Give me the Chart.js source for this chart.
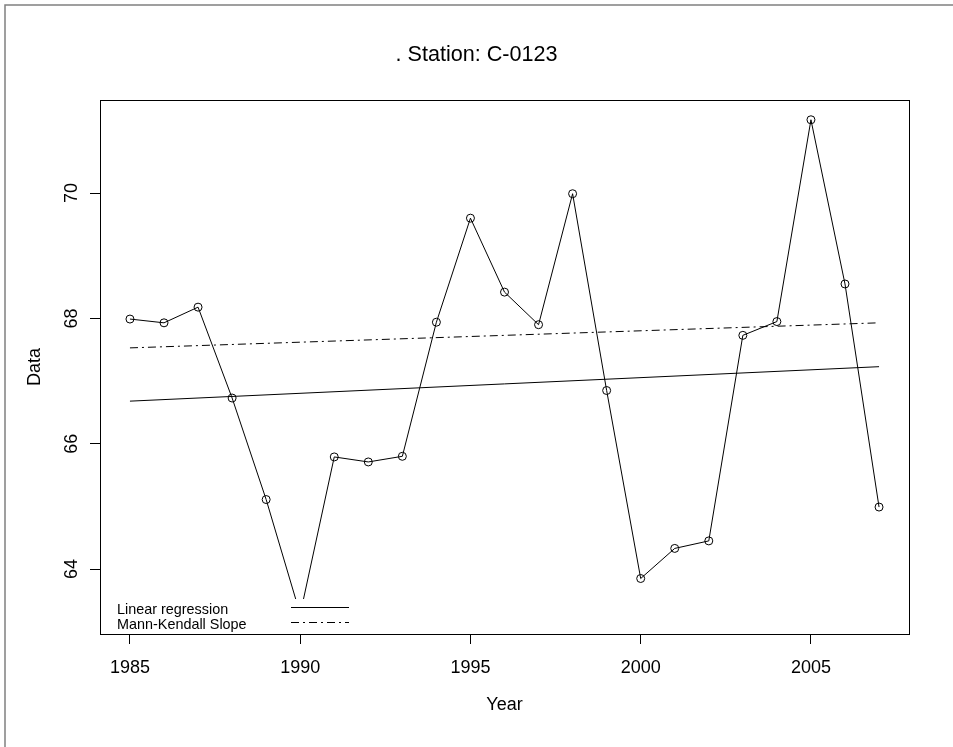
<!DOCTYPE html>
<html>
<head>
<meta charset="utf-8">
<script src="https://cdn.jsdelivr.net/npm/chart.js@4"></script>
<style>
  html, body { margin: 0; padding: 0; background: #fff; }
  canvas { display: block; }
</style>
</head>
<body>
<canvas id="myChart" width="953" height="747"></canvas>
<script>
// data
const years = [1985, 1986, 1987, 1988, 1989, 1990, 1991, 1992, 1993, 1994, 1995, 1996,
               1997, 1998, 1999, 2000, 2001, 2002, 2003, 2004, 2005, 2006, 2007];
const values = [67.99, 67.93, 68.18, 66.73, 65.11, 63.28, 65.79, 65.71, 65.80, 67.94, 69.60, 68.42,
                67.90, 69.99, 66.85, 63.85, 64.33, 64.45, 67.73, 67.95, 71.17, 68.55, 64.99];
const fitYears = [1985, 2007];
const linearFit = [66.68, 67.23];
const mkFit = [67.53, 67.93];
const xTicks = [1985, 1990, 1995, 2000, 2005];
const yTicks = [64, 66, 68, 70];

const FONT = "'Liberation Sans', Arial, Helvetica, sans-serif";

// R style axis range: data range + 4% each side
const xSpan = Math.max(...years) - Math.min(...years);
const ySpan = Math.max(...values) - Math.min(...values);
const xMin = Math.min(...years) - 0.04 * xSpan, xMax = Math.max(...years) + 0.04 * xSpan;
const yMin = Math.min(...values) - 0.04 * ySpan, yMax = Math.max(...values) + 0.04 * ySpan;

const pts = (xs, ys) => xs.map((x, i) => ({x: x, y: ys[i]}));

const boxPlugin = {
    id: 'box',
    beforeDraw(chart) {
        const ctx = chart.ctx;
        ctx.save();
        ctx.strokeStyle = '#808080';
        ctx.lineWidth = 1.5;
        ctx.beginPath();
        ctx.moveTo(5, 747);
        ctx.lineTo(5, 5);
        ctx.lineTo(953, 5);
        ctx.stroke();
        ctx.restore();
    },
    afterDatasetsDraw(chart) {
        // legend in the bottom left corner, white background
        const a = chart.chartArea, ctx = chart.ctx;
        ctx.save();
        ctx.fillStyle = '#fff';
        ctx.fillRect(a.left + 1, a.bottom - 35, 255, 34);
        ctx.fillStyle = '#000';
        ctx.font = '14.4px ' + FONT;
        ctx.textBaseline = 'middle';
        ctx.fillText('Linear regression', a.left + 17, a.bottom - 24);
        ctx.fillText('Mann-Kendall Slope', a.left + 17, a.bottom - 9);
        ctx.strokeStyle = '#000';
        ctx.lineWidth = 1;
        ctx.beginPath();
        ctx.moveTo(a.left + 191, a.bottom - 26.5);
        ctx.lineTo(a.left + 249, a.bottom - 26.5);
        ctx.stroke();
        ctx.setLineDash([8, 4, 2, 4]);
        ctx.beginPath();
        ctx.moveTo(a.left + 191, a.bottom - 11.5);
        ctx.lineTo(a.left + 249, a.bottom - 11.5);
        ctx.stroke();
        ctx.restore();
    },
    afterDraw(chart) {
        const a = chart.chartArea, ctx = chart.ctx;
        ctx.save();
        ctx.strokeStyle = '#000';
        ctx.lineWidth = 1;
        ctx.strokeRect(Math.round(a.left) + 0.5, Math.round(a.top) + 0.5,
                       Math.round(a.right - a.left), Math.round(a.bottom - a.top));
        ctx.restore();
    }
};

new Chart(document.getElementById('myChart'), {
    type: 'line',
    data: {
        datasets: [{
            label: 'Data',
            data: pts(years, values),
            borderColor: '#000',
            borderWidth: 1,
            pointRadius: 4,
            pointBorderColor: '#000',
            pointBackgroundColor: 'rgba(0,0,0,0)',
            pointBorderWidth: 1,
            tension: 0
        }, {
            label: 'Linear regression',
            data: pts(fitYears, linearFit),
            borderColor: '#000',
            borderWidth: 1,
            pointRadius: 0
        }, {
            label: 'Mann-Kendall Slope',
            data: pts(fitYears, mkFit),
            borderColor: '#000',
            borderWidth: 1,
            borderDash: [8, 4, 2, 4],
            pointRadius: 0
        }]
    },
    options: {
        responsive: false,
        animation: false,
        devicePixelRatio: 1,
        layout: {padding: 0},
        plugins: {
            legend: {display: false},
            tooltip: {enabled: false},
            title: {
                display: true,
                text: '. Station: C-0123',
                color: '#000',
                font: {family: FONT, size: 21.6, weight: 'normal'},
                padding: {top: 42, bottom: 32.08}
            }
        },
        scales: {
            x: {
                type: 'linear',
                position: 'bottom',
                min: xMin,
                max: xMax,
                afterBuildTicks: s => { s.ticks = xTicks.map(v => ({value: v})); },
                afterFit: s => { s.height = 113; },
                grid: {drawOnChartArea: false, drawTicks: true, tickLength: 10, color: '#000'},
                border: {display: true, color: '#000'},
                ticks: {
                    color: '#000',
                    font: {family: FONT, size: 18},
                    padding: 13,
                    maxRotation: 0,
                    callback: v => String(v)
                },
                title: {
                    display: true,
                    text: 'Year',
                    color: '#000',
                    font: {family: FONT, size: 18},
                    padding: {top: 0, bottom: 31}
                }
            },
            y: {
                type: 'linear',
                position: 'left',
                min: yMin,
                max: yMax,
                afterBuildTicks: s => { s.ticks = yTicks.map(v => ({value: v})); },
                afterFit: s => { s.width = 100; },
                grid: {drawOnChartArea: false, drawTicks: true, tickLength: 10, color: '#000'},
                border: {display: true, color: '#000'},
                ticks: {
                    color: '#000',
                    font: {family: FONT, size: 18},
                    padding: 8,
                    minRotation: 90,
                    maxRotation: 90,
                    crossAlign: 'center',
                    callback: v => String(v)
                },
                title: {
                    display: true,
                    text: 'Data',
                    color: '#000',
                    font: {family: FONT, size: 18},
                    padding: {top: 24, bottom: 0}
                }
            },
            y2: {
                type: 'linear',
                position: 'right',
                afterFit: s => { s.width = 44; },
                grid: {display: false},
                border: {display: false},
                ticks: {display: false}
            }
        }
    },
    plugins: [boxPlugin]
});
</script>
</body>
</html>
